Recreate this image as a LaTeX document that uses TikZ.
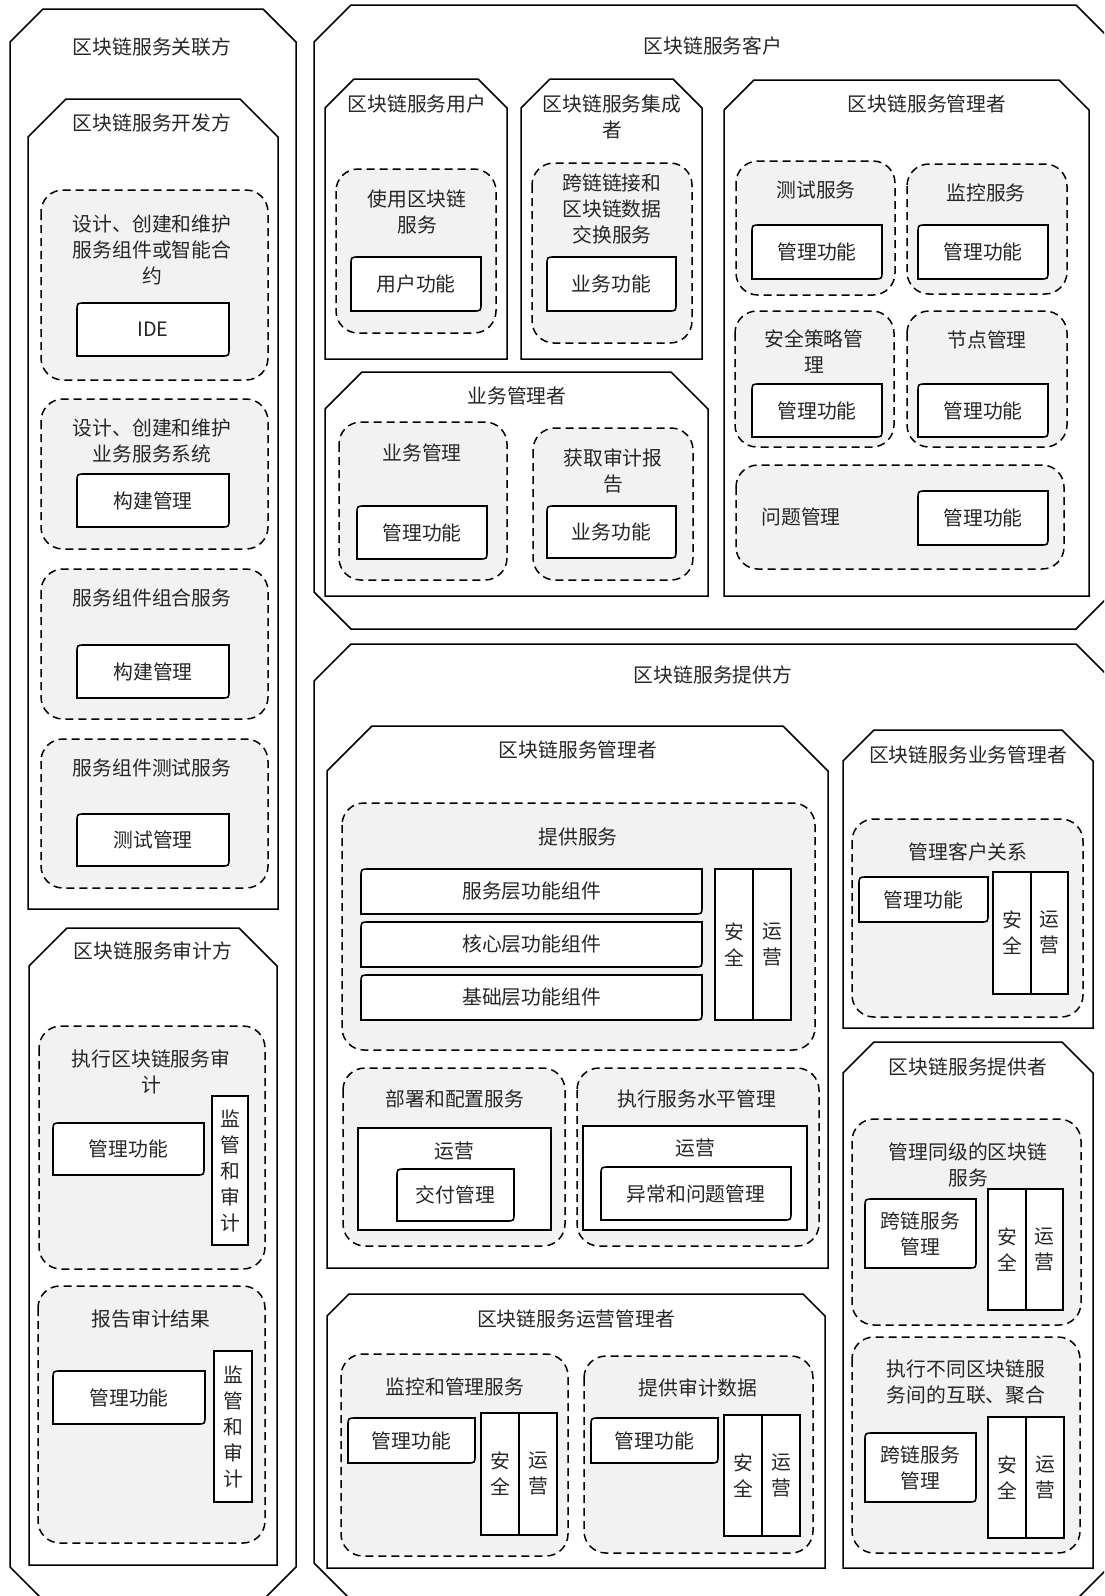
\documentclass[tikz,border=0pt]{standalone}
\usepackage{fontspec}
\setmainfont{Noto Sans CJK SC}
\definecolor{boxgray}{RGB}{242,242,242}
\newcommand\myocto[5]{\draw[frame] (#1+#5,#2) -- (#3-#5,#2) -- (#3,#2+#5) -- (#3,#4-#5) -- (#3-#5,#4) -- (#1+#5,#4) -- (#1,#4-#5) -- (#1,#2+#5) -- cycle;}
\newcommand\mytopc[5]{\draw[frame] (#1,#4) -- (#1,#2+#5) -- (#1+#5,#2) -- (#3-#5,#2) -- (#3,#2+#5) -- (#3,#4) -- cycle;}
\newcommand\myfn[6]{\draw[fnbox] (#1,#4) -- (#1,#2+8) .. controls (#1,#2) .. (#1+8,#2) -- (#3,#2) -- (#3,#4-8) .. controls (#3,#4) .. (#3-8,#4) -- cycle;
  \node[txt] (#5) at ({(#1+#3)/2},{(#2+#4)/2}) {#6};}
\newcommand\mypl[6]{\draw[plain] (#1,#2) rectangle (#3,#4);
  \node[txt] (#5) at ({(#1+#3)/2},{(#2+#4)/2}) {#6};}
\newcommand\mydb[4]{\draw[dbox] (#1,#2) rectangle (#3,#4);}
\begin{document}
\begin{tikzpicture}[x=1pt,y=-1pt,
  frame/.style={draw=black, line width=1.5pt, line join=miter},
  fnbox/.style={draw=black, fill=white, line width=1.6pt},
  plain/.style={draw=black, fill=white, line width=1.5pt},
  dbox/.style={draw=black, fill=boxgray, line width=1.5pt, dash pattern=on 8pt off 5pt, rounded corners=22pt},
  txt/.style={inner sep=0pt, align=center, font=\fontsize{19.8}{26}\selectfont, text=black!85}]
\useasboundingbox (0,0) rectangle (1104,1596);
\clip (0,0) rectangle (1104,1596);
\fill[white] (0,0) rectangle (1104,1596);
% outer frames
\myocto{10}{9}{296}{1600}{33}
\myocto{314}{5}{1113}{629}{37}
\myocto{314}{644}{1113}{1600}{37}
\node[txt] (tGLF) at (152,47) {区块链服务关联方};
\node[txt] (tKH) at (713,46) {区块链服务客户};
\node[txt] (tTGF) at (713,675) {区块链服务提供方};
% second level
\mytopc{28}{99}{278}{909}{38}
\node[txt] (tKFF) at (152,123) {区块链服务开发方};
\mytopc{29}{928}{277}{1565}{38}
\node[txt] (tSJF) at (153,951) {区块链服务审计方};
\mytopc{325}{79}{507}{359}{29}
\node[txt] (tYH) at (417,104) {区块链服务用户};
\mytopc{521}{79}{702}{359}{29}
\node[txt] (tJCZ) at (612,117) {区块链服务集成\\者};
\mytopc{325}{372}{708}{596}{37}
\node[txt] (tYWGLZ) at (517,396) {业务管理者};
\mytopc{724}{80}{1089}{596}{30}
\node[txt] (tGLZa) at (927,104) {区块链服务管理者};
\mytopc{327}{726}{828}{1268}{45}
\node[txt] (tGLZb) at (578,750) {区块链服务管理者};
\mytopc{843}{730}{1093}{1028}{31}
\node[txt] (tYWGLZb) at (968,755) {区块链服务业务管理者};
\mytopc{843}{1042}{1093}{1568}{31}
\node[txt] (tTGZ) at (968,1067) {区块链服务提供者};
\mytopc{327}{1294}{825}{1568}{22}
\node[txt] (tYYGLZ) at (576,1319) {区块链服务运营管理者};
% left column: developer
\mydb{41}{190}{268}{380}
\node[txt] (d1t) at (152,250) {设计、创建和维护\\服务组件或智能合\\约};
\myfn{77}{303}{229}{356}{d1f}{IDE}
\mydb{41}{399}{268}{549}
\node[txt] (d2t) at (152,441) {设计、创建和维护\\业务服务系统};
\myfn{77}{474}{229}{527}{d2f}{构建管理}
\mydb{41}{569}{268}{719}
\node[txt] (d3t) at (152,598) {服务组件组合服务};
\myfn{77}{645}{229}{698}{d3f}{构建管理}
\mydb{41}{739}{268}{888}
\node[txt] (d4t) at (152,768) {服务组件测试服务};
\myfn{77}{814}{229}{866}{d4f}{测试管理}
% auditor
\mydb{39}{1026}{265}{1269}
\node[txt] (d5t) at (151,1072) {执行区块链服务审\\计};
\myfn{53}{1123}{204}{1175}{d5f}{管理功能}
\mypl{212}{1096}{248}{1245}{d5v}{监\\管\\和\\审\\计}
\mydb{38}{1286}{265}{1543}
\node[txt] (d6t) at (151,1319) {报告审计结果};
\myfn{53}{1371}{205}{1424}{d6f}{管理功能}
\mypl{214}{1351}{252}{1502}{d6v}{监\\管\\和\\审\\计}
% customer
\mydb{336}{169}{496}{333}
\node[txt] (d7t) at (417,212) {使用区块链\\服务};
\myfn{351}{257}{481}{311}{d7f}{用户功能}
\mydb{532}{163}{692}{343}
\node[txt] (d8t) at (612,209) {跨链链接和\\区块链数据\\交换服务};
\myfn{547}{257}{676}{311}{d8f}{业务功能}
\mydb{339}{422}{507}{580}
\node[txt] (d9t) at (422,453) {业务管理};
\myfn{357}{506}{487}{559}{d9f}{管理功能}
\mydb{533}{428}{693}{580}
\node[txt] (d10t) at (613,471) {获取审计报\\告};
\myfn{547}{506}{676}{558}{d10f}{业务功能}
\mydb{736}{161}{895}{295}
\node[txt] (d11t) at (816,190) {测试服务};
\myfn{752}{225}{882}{279}{d11f}{管理功能}
\mydb{907}{164}{1067}{294}
\node[txt] (d12t) at (986,193) {监控服务};
\myfn{918}{225}{1048}{279}{d12f}{管理功能}
\mydb{735}{311}{894}{447}
\node[txt] (d13t) at (814,352) {安全策略管\\理};
\myfn{752}{384}{882}{437}{d13f}{管理功能}
\mydb{907}{311}{1067}{447}
\node[txt] (d14t) at (987,340) {节点管理};
\myfn{918}{384}{1048}{437}{d14f}{管理功能}
\mydb{736}{465}{1064}{569}
\node[txt] (d15t) at (801,517) {问题管理};
\myfn{918}{491}{1048}{545}{d15f}{管理功能}
% provider: manager
\mydb{342}{803}{815}{1050}
\node[txt] (d16t) at (578,837) {提供服务};
\myfn{361}{869}{702}{914}{bar1}{服务层功能组件}
\myfn{361}{922}{702}{967}{bar2}{核心层功能组件}
\myfn{361}{975}{702}{1020}{bar3}{基础层功能组件}
\mypl{715}{869}{753}{1020}{d16a}{安\\全}
\mypl{753}{869}{791}{1020}{d16b}{运\\营}
\mydb{343}{1068}{565}{1246}
\node[txt] (d17t) at (455,1099) {部署和配置服务};
\draw[plain] (358,1128) rectangle (551,1230);
\node[txt] (d17o) at (454,1151) {运营};
\myfn{397}{1169}{514}{1221}{d17f}{交付管理}
\mydb{577}{1068}{819}{1246}
\node[txt] (d18t) at (697,1099) {执行服务水平管理};
\draw[plain] (583,1126) rectangle (807,1230);
\node[txt] (d18o) at (695,1148) {运营};
\myfn{601}{1167}{791}{1220}{d18f}{异常和问题管理}
% provider: business manager
\mydb{852}{819}{1083}{1017}
\node[txt] (d19t) at (968,852) {管理客户关系};
\myfn{859}{877}{988}{922}{d19f}{管理功能}
\mypl{993}{872}{1031}{994}{d19a}{安\\全}
\mypl{1031}{872}{1068}{994}{d19b}{运\\营}
% provider: provider
\mydb{852}{1119}{1081}{1325}
\node[txt] (d20t) at (968,1165) {管理同级的区块链\\服务};
\myfn{865}{1199}{976}{1268}{d20f}{跨链服务\\管理}
\mypl{988}{1189}{1026}{1310}{d20a}{安\\全}
\mypl{1026}{1189}{1063}{1310}{d20b}{运\\营}
\mydb{852}{1337}{1080}{1553}
\node[txt] (d21t) at (966,1382) {执行不同区块链服\\务间的互联、聚合};
\myfn{865}{1433}{976}{1502}{d21f}{跨链服务\\管理}
\mypl{988}{1417}{1026}{1538}{d21a}{安\\全}
\mypl{1026}{1417}{1064}{1538}{d21b}{运\\营}
% provider: operations manager
\mydb{341}{1354}{568}{1556}
\node[txt] (d22t) at (455,1387) {监控和管理服务};
\myfn{348}{1418}{475}{1463}{d22f}{管理功能}
\mypl{481}{1413}{519}{1535}{d22a}{安\\全}
\mypl{519}{1413}{557}{1535}{d22b}{运\\营}
\mydb{584}{1356}{813}{1553}
\node[txt] (d23t) at (698,1388) {提供审计数据};
\myfn{591}{1418}{718}{1463}{d23f}{管理功能}
\mypl{724}{1415}{762}{1536}{d23a}{安\\全}
\mypl{762}{1415}{800}{1536}{d23b}{运\\营}
\end{tikzpicture}
\end{document}
